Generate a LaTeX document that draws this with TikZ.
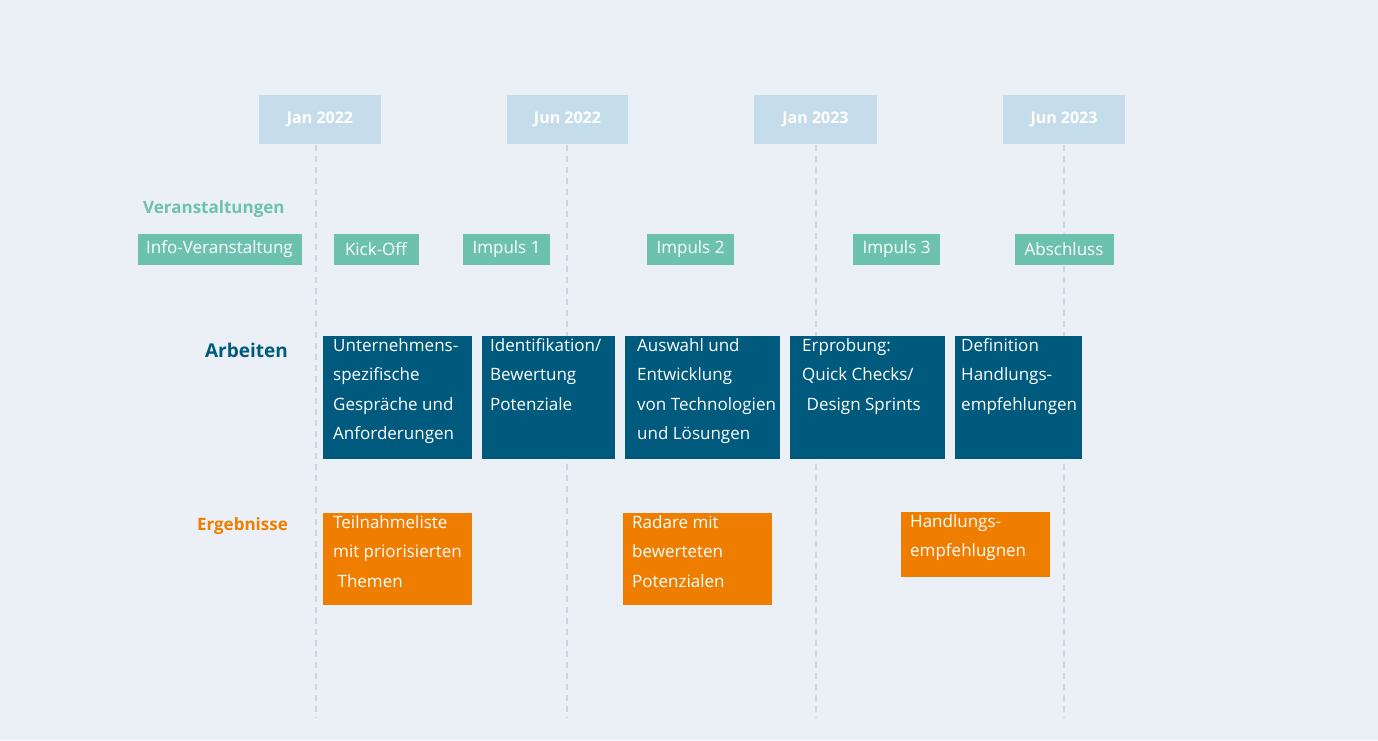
\documentclass[tikz,border=0pt]{standalone}
\usepackage{fontspec}
\setmainfont{Open Sans}
\definecolor{bg}{HTML}{EBF0F6}
\definecolor{datec}{HTML}{C5DCEA}
\definecolor{teal}{HTML}{6CC2AE}
\definecolor{dblue}{HTML}{005A7D}
\definecolor{orng}{HTML}{EF7D00}
\definecolor{dash}{HTML}{C9D6E6}
\tikzset{
 x=1pt,y=-1pt,
 datebox/.style={fill=datec,text=white,font=\fontsize{16}{18}\selectfont\bfseries,inner sep=0pt},
 evbox/.style={fill=teal,text=white,font=\fontsize{17}{20}\selectfont,inner sep=0pt},
 txt/.style={anchor=north west,align=left,text=white,inner sep=0pt,font=\fontsize{17}{29.5}\selectfont},
 rowlbl/.style={font=\fontsize{17}{20}\selectfont\bfseries,inner sep=0pt},
 vline/.style={draw=dash,line width=1.3pt,dash pattern=on 6pt off 5pt},
}
\begin{document}
\begin{tikzpicture}
\useasboundingbox[fill=bg] (0,0) rectangle (1378,740);
% date boxes
\node[datebox,minimum width=122,minimum height=49] (d1) at (320,119.5) {Jan 2022};
\node[datebox,minimum width=121,minimum height=49] (d2) at (567.5,119.5) {Jun 2022};
\node[datebox,minimum width=123,minimum height=49] (d3) at (815.5,119.5) {Jan 2023};
\node[datebox,minimum width=122,minimum height=49] (d4) at (1064,119.5) {Jun 2023};
\coordinate (e1) at (316,718);\coordinate (s1) at (316,144.5);
\coordinate (e2) at (567,718);\coordinate (s2) at (567,144.5);
\coordinate (e3) at (816,718);\coordinate (s3) at (816,144.5);
\coordinate (e4) at (1064,718);\coordinate (s4) at (1064,144.5);
\foreach \i in {1,...,4} \draw[vline] (s\i) -- (e\i);
% row labels
\node[rowlbl,text=teal,anchor=west] (lv) at (143,209) {Veranstaltungen};
\node[rowlbl,text=dblue,anchor=east,font=\fontsize{19}{22}\selectfont\bfseries] (la) at (288,350) {Arbeiten};
\node[rowlbl,text=orng,anchor=east] (le) at (288,526) {Ergebnisse};
% events
\node[evbox,minimum width=164,minimum height=31] (v1) at (219.5,249.5) {Info-Veranstaltung};
\node[evbox,minimum width=85,minimum height=31] (v2) at (376,249) {Kick-Off};
\node[evbox,minimum width=87,minimum height=31] (v3) at (506.5,249) {Impuls 1};
\node[evbox,minimum width=87,minimum height=31] (v4) at (690.5,249) {Impuls 2};
\node[evbox,minimum width=87,minimum height=31] (v5) at (896.5,249) {Impuls 3};
\node[evbox,minimum width=99,minimum height=31] (v6) at (1064,249) {Abschluss};
% work boxes
\fill[dblue] (323,336) rectangle (472,459);
\fill[dblue] (482,336) rectangle (615,459);
\fill[dblue] (625,336) rectangle (780,459);
\fill[dblue] (790,336) rectangle (945,459);
\fill[dblue] (955,336) rectangle (1082,459);
\node[txt] (a1) at (333,338) {Unternehmens-\\spezifische\\Gespräche und\\Anforderungen};
\node[txt] (a2) at (490,338) {Identifikation/\\Bewertung\\Potenziale};
\node[txt] (a3) at (637,338) {Auswahl und\\Entwicklung\\von Technologien\\und Lösungen};
\node[txt] (a4) at (802,338) {Erprobung:\\Quick Checks/\\\ Design Sprints};
\node[txt] (a5) at (961,338) {Definition\\Handlungs-\\empfehlungen};
% results
\fill[orng] (323,513) rectangle (472,605);
\fill[orng] (623,513) rectangle (772,605);
\fill[orng] (901,512) rectangle (1050,577);
\node[txt] (r1) at (333,515) {Teilnahmeliste\\mit priorisierten\\\ Themen};
\node[txt] (r2) at (632,515) {Radare mit\\bewerteten\\Potenzialen};
\node[txt] (r3) at (910,514) {Handlungs-\\empfehlugnen};
\end{tikzpicture}
\end{document}
